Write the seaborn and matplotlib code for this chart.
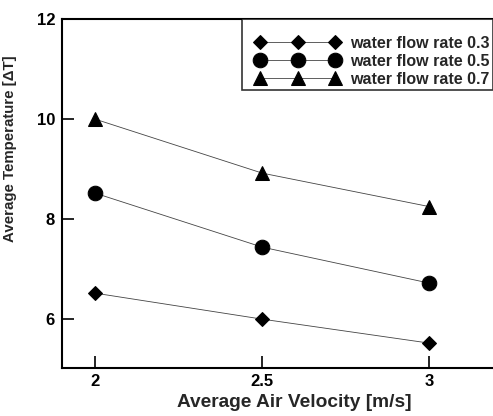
import seaborn as sns
import matplotlib.pyplot as plt
from matplotlib.lines import Line2D
from matplotlib.legend_handler import HandlerLine2D

# datos
velocidad = [2.0, 2.5, 3.0]
fluxo_03 = [6.52, 6.00, 5.52]
fluxo_05 = [8.52, 7.44, 6.72]
fluxo_07 = [10.0, 8.92, 8.25]
rotulos = ['water flow rate 0.3', 'water flow rate 0.5', 'water flow rate 0.7']

sns.set_style('ticks')
plt.rcParams['font.family'] = ['Liberation Sans', 'DejaVu Sans']

fig = plt.figure(figsize=(4.93, 4.16), dpi=100)
ax = fig.add_axes([0.1258, 0.115, 0.8742, 0.839])

series = [(fluxo_03, 'D', 7.2), (fluxo_05, 'o', 10.5), (fluxo_07, '^', 10)]
for (valores, marcador, tam), rotulo in zip(series, rotulos):
    sns.lineplot(x=velocidad, y=valores, marker=marcador, markersize=tam,
                 color='black', markeredgecolor='black', linewidth=0.6,
                 label=rotulo, ax=ax)
for linha in ax.get_lines():
    linha.set_color('#444444')
    linha.set_markerfacecolor('black')
    linha.set_markeredgecolor('black')

ax.set_xlim(1.901, 3.19)
ax.set_ylim(5.02, 12)
ax.set_xticks([2, 2.5, 3])
ax.set_xticklabels(['2', '2.5', '3'])
ax.set_yticks([6, 8, 10, 12])
ax.set_yticklabels(['6', '8', '10', '12'])
ax.tick_params(axis='both', direction='in', length=8.5, width=1.2, labelsize=12, colors='black')
ax.tick_params(axis='y', pad=5)
ax.tick_params(axis='x', pad=4)
for t in ax.get_xticklabels() + ax.get_yticklabels():
    t.set_fontweight('bold')

for lado in ['left', 'bottom', 'top']:
    ax.spines[lado].set_linewidth(1.5)
    ax.spines[lado].set_color('black')
ax.spines['right'].set_visible(False)

ax.set_xlabel('Average Air Velocity [m/s]', fontsize=13.8, fontweight='bold')
ax.xaxis.set_label_coords(0.54, -0.074)
ax.set_ylabel('Average Temperature [ΔT]', fontsize=10.8, fontweight='bold')
ax.yaxis.set_label_coords(-0.105, 0.63)

leg = ax.legend(loc='upper right', numpoints=3, frameon=True, fancybox=False,
                borderaxespad=0.0, borderpad=0.2, handlelength=6.6,
                handletextpad=0.0, labelspacing=0.2,
                title=' ', title_fontsize=8,
                handler_map={Line2D: HandlerLine2D(marker_pad=0.95)},
                prop={'weight': 'bold', 'size': 11.5})
leg.get_frame().set_edgecolor('black')
leg.get_frame().set_linewidth(1.2)

fig.savefig('out.png', dpi=100)
